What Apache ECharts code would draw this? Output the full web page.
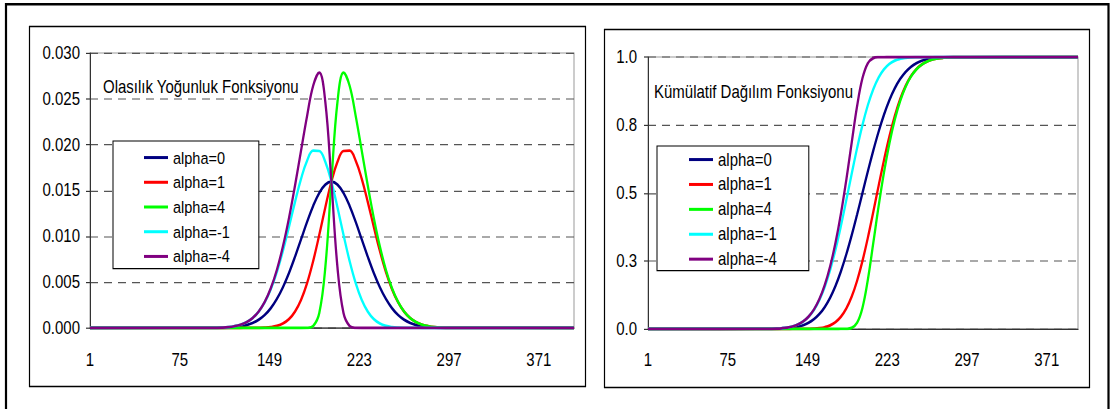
<!DOCTYPE html>
<html><head><meta charset="utf-8">
<script src="https://cdn.jsdelivr.net/npm/echarts@6/dist/echarts.min.js"></script>
<style>
html,body{margin:0;padding:0;background:#fff;overflow:hidden}
#wrap{width:1111px;height:409px;overflow:hidden;position:relative}
#c{width:1111px;height:340.83px;transform:scaleY(1.2);transform-origin:0 0}
</style>
</head><body><div id="wrap"><div id="c"></div></div>
<script>
const categories = Array.from({length: 400}, (_, i) => String(i + 1));
const sampleX = [1,100,105,110,115,120,125,130,135,140,145,150,155,160,165,170,175,180,185,190,195,200,205,210,215,220,225,230,235,240,245,250,255,260,265,270,275,280,285,290,295,300,400];
const seriesNames = ['alpha=0','alpha=1','alpha=4','alpha=-1','alpha=-4'];
const seriesColors = ['#000080','#ff0000','#00ff00','#00ffff','#800080'];
const yTickLabelsLeft = ['0.000','0.005','0.010','0.015','0.020','0.025','0.030'];
const yTickLabelsRight = ['0.0','0.3','0.5','0.8','1.0'];
const titleLeft = 'Olasılık Yoğunluk Fonksiyonu';
const titleRight = 'Kümülatif Dağılım Fonksiyonu';

const pdfAlpha0 = [0,0.0000054,0.0000117,0.0000245,0.0000493,0.0000954,0.000177,0.000317,0.000543,0.000896,0.001419,0.002160,0.003158,0.004437,0.005989,0.007767,0.009679,0.011588,0.013329,0.014731,0.015642,0.015958,0.015642,0.014731,0.013329,0.011588,0.009679,0.007767,0.005989,0.004437,0.003158,0.002160,0.001419,0.000896,0.000543,0.000317,0.000177,0.0000954,0.0000493,0.0000245,0.0000117,0.0000054,0];
const pdfAlpha1 = [0,0,0,0,0,0,0.0000005,0.0000016,0.0000051,0.0000147,0.0000395,0.0000983,0.000227,0.000486,0.000967,0.001788,0.003071,0.004910,0.007311,0.010152,0.013162,0.015958,0.018121,0.019310,0.019347,0.018266,0.016286,0.013747,0.011011,0.008387,0.006089,0.004221,0.002799,0.001777,0.001082,0.000632,0.000354,0.000191,0.0000985,0.0000490,0.0000234,0.0000107,0];
const pdfAlpha4 = [0,0,0,0,0,0,0,0,0,0,0,0,0,0,0,0,0,0.0000159,0.000219,0.001614,0.006628,0.015958,0.024656,0.027847,0.026440,0.023160,0.019357,0.015535,0.011978,0.008874,0.006316,0.004319,0.002838,0.001792,0.001087,0.000633,0.000355,0.000191,0.0000986,0.0000490,0.0000234,0.0000107,0];
const pdfAlphaM1 = [0,0.0000107,0.0000234,0.0000490,0.0000985,0.000191,0.000354,0.000632,0.001082,0.001777,0.002799,0.004221,0.006089,0.008387,0.011011,0.013747,0.016286,0.018266,0.019347,0.019310,0.018121,0.015958,0.013162,0.010152,0.007311,0.004910,0.003071,0.001788,0.000967,0.000486,0.000227,0.0000983,0.0000395,0.0000147,0.0000051,0.0000016,0.0000005,0,0,0,0,0,0];
const pdfAlphaM4 = [0,0.0000107,0.0000234,0.0000490,0.0000986,0.000191,0.000355,0.000633,0.001087,0.001792,0.002838,0.004319,0.006316,0.008874,0.011978,0.015535,0.019357,0.023160,0.026440,0.027847,0.024656,0.015958,0.006628,0.001614,0.000219,0.0000159,0,0,0,0,0,0,0,0,0,0,0,0,0,0,0,0,0];

const cdfAlpha0 = [0,0.00003,0.00007,0.00016,0.00034,0.00069,0.00135,0.00256,0.00466,0.00820,0.01390,0.02275,0.03593,0.05480,0.08076,0.11507,0.15866,0.21186,0.27425,0.34458,0.42074,0.5,0.57926,0.65542,0.72575,0.78814,0.84134,0.88493,0.91924,0.94520,0.96407,0.97725,0.98610,0.99180,0.99534,0.99744,0.99865,0.99931,0.99966,0.99984,0.99993,0.99997,1];
const cdfAlpha1 = [0,0,0,0,0.0000001,0.0000005,0.0000018,0.0000065,0.0000217,0.0000672,0.000193,0.000518,0.001291,0.003003,0.006522,0.013241,0.025172,0.044883,0.075215,0.118734,0.177022,0.25,0.335542,0.429578,0.526709,0.621163,0.707861,0.783101,0.844998,0.893405,0.929431,0.955018,0.972387,0.983671,0.990700,0.994897,0.997302,0.998627,0.999326,0.999682,0.999856,0.999937,1];
const cdfAlpha4 = [0,0,0,0,0,0,0,0,0,0,0,0,0,0,0,0,0.000001,0.000026,0.000434,0.004098,0.022669,0.077979,0.181198,0.314953,0.451949,0.576347,0.682728,0.769898,0.838524,0.890440,0.928178,0.954538,0.972232,0.983642,0.990716,0.994928,0.997338,0.998664,0.999364,0.999720,0.999894,0.999974,1];
const cdfAlphaM1 = [0,0.000063,0.000144,0.000318,0.000674,0.001373,0.002698,0.005103,0.009300,0.016329,0.027613,0.044982,0.070569,0.106595,0.155002,0.216899,0.292139,0.378837,0.473291,0.570422,0.664458,0.75,0.822978,0.881266,0.924785,0.955117,0.974828,0.986759,0.993478,0.996997,0.998709,0.999482,0.999807,0.999933,0.999978,0.999994,0.999998,1,1,1,1,1,1];
const cdfAlphaM4 = [0,0.000026,0.000106,0.000280,0.000636,0.001336,0.002662,0.005072,0.009284,0.016358,0.027768,0.045462,0.071822,0.109560,0.161476,0.230102,0.317272,0.423653,0.548051,0.685047,0.818802,0.922021,0.977331,0.995902,0.999566,0.999974,0.999999,1,1,1,1,1,1,1,1,1,1,1,1,1,1,1,1];

const pdfSets = [pdfAlpha0, pdfAlpha1, pdfAlpha4, pdfAlphaM1, pdfAlphaM4];
const cdfSets = [cdfAlpha0, cdfAlpha1, cdfAlpha4, cdfAlphaM1, cdfAlphaM4];

const FONT = "'Liberation Sans', Arial, sans-serif";
// the page is stretched vertically by SY (tall, narrow Excel-like text); vertical layout values are divided by it
const SY = 1.2;
const v = px => px / SY;

function toPairs(values) {
  return sampleX.map((x, i) => [x - 1, values[i]]);
}
function makeSeries(sets, gridIdx) {
  return sets.map((vals, k) => ({
    name: seriesNames[k], type: 'line', xAxisIndex: gridIdx, yAxisIndex: gridIdx,
    data: toPairs(vals), showSymbol: false, symbol: 'none', smooth: 0.4,
    color: seriesColors[k],
    lineStyle: { color: seriesColors[k], width: 2.3 },
    itemStyle: { color: seriesColors[k] },
    emphasis: { disabled: true }, z: 3 + k
  }));
}
function xAxisCfg(gridIdx, margin) {
  return {
    type: 'category', gridIndex: gridIdx, data: categories, boundaryGap: false,
    axisLine: { show: true, lineStyle: { color: '#333', width: 1 } },
    axisTick: { show: false },
    axisLabel: { interval: 73, margin: margin, fontSize: 15, fontFamily: FONT, color: '#000' },
    splitLine: { show: false }
  };
}
function yAxisCfg(gridIdx, max, interval, labels, margin) {
  return {
    type: 'value', gridIndex: gridIdx, min: 0, max: max, interval: interval,
    axisLine: { show: true, lineStyle: { color: '#333', width: 1 } },
    axisTick: { show: true, length: 4, lineStyle: { color: '#333' } },
    axisLabel: { formatter: val => labels[Math.round(val / interval)], margin: margin, fontSize: 15, fontFamily: FONT, color: '#000' },
    splitLine: { show: true, lineStyle: { color: '#555', width: 1, type: [8, 6] } }
  };
}
function legendCfg(left, top, padding, gap, fs) {
  return {
    data: seriesNames, orient: 'vertical', left: left, top: top, padding: padding,
    itemGap: gap, itemWidth: 24, itemHeight: 2.5, icon: 'rect',
    borderColor: '#000', borderWidth: 1, backgroundColor: '#fff',
    textStyle: { fontSize: fs, fontFamily: FONT, color: '#000' },
    selectedMode: false
  };
}

const chart = echarts.init(document.getElementById('c'), null, { renderer: 'svg' });
chart.setOption({
  animation: false,
  backgroundColor: '#fff',
  grid: [
    { left: 90, top: v(53), width: 484, height: v(275), show: true, borderColor: '#999', borderWidth: 1, backgroundColor: 'transparent' },
    { left: 648, top: v(57), width: 430, height: v(272), show: true, borderColor: '#999', borderWidth: 1, backgroundColor: 'transparent' }
  ],
  xAxis: [xAxisCfg(0, 18.8), xAxisCfg(1, 18)],
  yAxis: [yAxisCfg(0, 0.03, 0.005, yTickLabelsLeft, 10), yAxisCfg(1, 1, 0.25, yTickLabelsRight, 11)],
  legend: [
    legendCfg(113, v(141), [6.3, 29, 2.6, 31], 5.6, 14.5),
    legendCfg(657, v(146), [3.8, 32, 2.0, 32], 5.75, 15)
  ],
  graphic: [
    { type: 'rect', silent: true, shape: { x: 6, y: v(4.2), width: 1102.5, height: 400 }, style: { fill: 'none', stroke: '#000', lineWidth: 2.2 } },
    { type: 'rect', silent: true, shape: { x: 29.5, y: v(26.5), width: 556, height: v(360) }, style: { fill: 'none', stroke: '#000', lineWidth: 1.2 } },
    { type: 'rect', silent: true, shape: { x: 604.5, y: v(29.5), width: 485, height: v(358) }, style: { fill: 'none', stroke: '#000', lineWidth: 1.2 } },
    { type: 'text', silent: true, x: 103, y: v(87), style: { text: titleLeft, fontSize: 15, fontFamily: FONT, fill: '#000', verticalAlign: 'middle' } },
    { type: 'text', silent: true, x: 654, y: v(92), style: { text: titleRight, fontSize: 15, fontFamily: FONT, fill: '#000', verticalAlign: 'middle' } }
  ],
  series: makeSeries(pdfSets, 0).concat(makeSeries(cdfSets, 1))
});
</script></body></html>
